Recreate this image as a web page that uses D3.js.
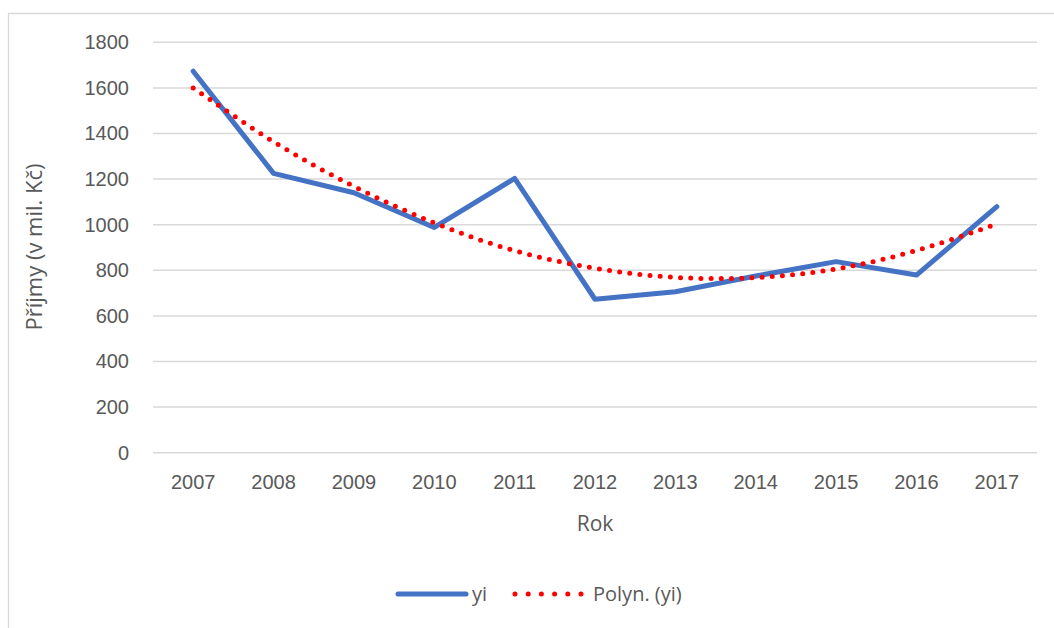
<!DOCTYPE html>
<html>
<head>
<meta charset="utf-8">
<script src="https://cdn.jsdelivr.net/npm/d3@7.9.0/dist/d3.min.js"></script>
<style>
  body { margin: 0; background: #fff; }
  svg { display: block; font-family: "Open Sans", sans-serif; }
</style>
</head>
<body>
<svg id="chart" width="1054" height="628"></svg>
<script>
let years = ['2007', '2008', '2009', '2010', '2011', '2012', '2013', '2014', '2015', '2016', '2017'];
let yi = [1673, 1225, 1140, 988, 1203, 673, 706, 775, 838, 779, 1079];
let trend = [1600, 1364, 1168, 1008, 886, 809, 769, 768, 806, 887, 1003];
let yTicks = [0, 200, 400, 600, 800, 1000, 1200, 1400, 1600, 1800];

let svg = d3.select('#chart');
let margin = { left: 153, right: 1037, top: 42.3, bottom: 452.7 };

// frame
svg.append('path')
  .attr('d', 'M8.5,628 V13.5 H1054')
  .attr('fill', 'none')
  .attr('stroke', '#d9d9d9')
  .attr('stroke-width', 1.3);

let x = d3.scaleBand()
  .domain(years)
  .range([margin.left, margin.right]);

let y = d3.scaleLinear()
  .domain([0, 1800])
  .range([margin.bottom, margin.top]);

// gridlines
svg.append('g')
  .selectAll('line')
  .data(yTicks)
  .join('line')
  .attr('x1', margin.left)
  .attr('x2', margin.right)
  .attr('y1', d => y(d))
  .attr('y2', d => y(d))
  .attr('stroke', '#d9d9d9')
  .attr('stroke-width', 1.5);

// y axis
let yAxis = svg.append('g')
  .attr('transform', `translate(${margin.left},0)`)
  .call(d3.axisLeft(y).tickValues(yTicks).tickFormat(d3.format('d')).tickSize(0).tickPadding(24));
yAxis.select('.domain').remove();
yAxis.selectAll('text')
  .attr('fill', '#595959')
  .style('font-size', '20px')
  .attr('font-family', null);

// x axis
let xAxis = svg.append('g')
  .attr('transform', `translate(0,${margin.bottom})`)
  .call(d3.axisBottom(x).tickSize(0).tickPadding(22));
xAxis.select('.domain').remove();
xAxis.selectAll('text')
  .attr('fill', '#595959')
  .style('font-size', '20px')
  .attr('font-family', null);

// axis titles
svg.append('text')
  .attr('x', 595)
  .attr('y', 531)
  .attr('text-anchor', 'middle')
  .attr('fill', '#595959')
  .style('font-size', '21px')
  .text('Rok');

svg.append('text')
  .attr('transform', 'translate(42,247) rotate(-90)')
  .attr('text-anchor', 'middle')
  .attr('fill', '#595959')
  .style('font-size', '22px')
  .text('Příjmy (v mil. Kč)');

let cx = d => x(d) + x.bandwidth() / 2;

// trend (dotted)
let trendLine = d3.line()
  .x((d, i) => cx(years[i]))
  .y(d => y(d))
  .curve(d3.curveNatural);

// data line
let dataLine = d3.line()
  .x((d, i) => cx(years[i]))
  .y(d => y(d));

svg.append('path')
  .datum(yi)
  .attr('d', dataLine)
  .attr('fill', 'none')
  .attr('stroke', '#4472c4')
  .attr('stroke-width', 5)
  .attr('stroke-linecap', 'round')
  .attr('stroke-linejoin', 'round');

svg.append('path')
  .datum(trend)
  .attr('d', trendLine)
  .attr('fill', 'none')
  .attr('stroke', '#ff0000')
  .attr('stroke-width', 5)
  .attr('stroke-linecap', 'round')
  .attr('stroke-dasharray', '0 10.2');

// legend
let legend = svg.append('g');
legend.append('line')
  .attr('x1', 398).attr('x2', 466)
  .attr('y1', 594).attr('y2', 594)
  .attr('stroke', '#4472c4')
  .attr('stroke-width', 5)
  .attr('stroke-linecap', 'round');
legend.append('text')
  .attr('x', 472).attr('y', 601)
  .attr('fill', '#595959')
  .style('font-size', '20px')
  .text('yi');
legend.append('line')
  .attr('x1', 515).attr('x2', 581)
  .attr('y1', 594).attr('y2', 594)
  .attr('stroke', '#ff0000')
  .attr('stroke-width', 5)
  .attr('stroke-linecap', 'round')
  .attr('stroke-dasharray', '0 13.2');
legend.append('text')
  .attr('x', 593).attr('y', 601)
  .attr('fill', '#595959')
  .style('font-size', '20px')
  .text('Polyn. (yi)');
</script>
</body>
</html>
